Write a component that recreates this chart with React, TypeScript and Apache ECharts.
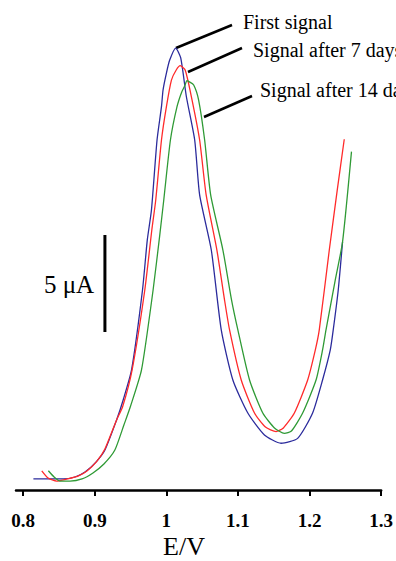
import React, { useEffect, useRef } from "react";
import * as echarts from "echarts";

// Potential (V) and current (μA, relative to baseline)
const firstE = [0.8143, 0.8348, 0.8561, 0.8724, 0.8864, 0.9017, 0.9142, 0.9305, 0.9397, 0.9514, 0.9667, 0.9734, 0.9792, 0.987, 0.9932, 0.9954, 1.0001, 1.0047, 1.0131, 1.0201, 1.028, 1.0396, 1.0465, 1.0628, 1.0767, 1.0929, 1.1138, 1.137, 1.1603, 1.1834, 1.2043, 1.2182, 1.229, 1.2331, 1.2401, 1.2461];
const firstI = [0.57, 0.57, 0.57, 0.67, 0.93, 1.44, 2.06, 3.61, 4.64, 6.19, 10.31, 12.89, 14.43, 18.04, 19.76, 20.62, 21.49, 22.16, 22.78, 22.27, 20.27, 18.04, 15.21, 12.37, 8.25, 5.67, 3.97, 2.84, 2.41, 2.66, 3.97, 5.67, 7.22, 8.25, 10.31, 12.78];

const day7E = [0.826, 0.8348, 0.8469, 0.8613, 0.8766, 0.8891, 0.9031, 0.9142, 0.9305, 0.9389, 0.9522, 0.9699, 0.9797, 0.9852, 0.9932, 1.0001, 1.0071, 1.0138, 1.0194, 1.0263, 1.035, 1.0465, 1.0556, 1.0706, 1.0813, 1.0883, 1.1046, 1.1231, 1.1384, 1.1533, 1.1635, 1.1788, 1.1974, 1.2081, 1.2136, 1.2276, 1.2387, 1.2485];
const day7I = [0.99, 0.62, 0.46, 0.57, 0.72, 0.98, 1.49, 2.11, 3.61, 4.29, 6.19, 10.31, 13.4, 14.95, 18.04, 19.76, 21.13, 21.65, 21.87, 21.65, 20.27, 18.04, 15.21, 12.37, 9.79, 8.25, 5.67, 3.97, 3.25, 3.01, 3.2, 3.97, 5.67, 7.22, 8.25, 12.37, 15.46, 18.08];

const day14E = [0.8352, 0.8432, 0.8515, 0.8655, 0.8822, 0.8975, 0.9128, 0.9281, 0.9407, 0.9497, 0.9653, 0.9815, 0.9908, 0.9964, 1.0057, 1.0149, 1.0215, 1.0256, 1.0288, 1.0316, 1.0382, 1.0451, 1.0535, 1.0619, 1.079, 1.0911, 1.0999, 1.1162, 1.1347, 1.151, 1.1649, 1.1747, 1.1904, 1.2091, 1.2182, 1.223, 1.2359, 1.2461, 1.2586];
const day14I = [0.99, 0.67, 0.46, 0.46, 0.57, 0.88, 1.34, 2.06, 3.35, 4.29, 6.19, 10.31, 13.14, 14.95, 18.04, 19.76, 20.52, 20.82, 21.1, 21.05, 20.88, 20.1, 18.04, 15.21, 12.37, 9.79, 8.25, 5.67, 3.97, 3.2, 2.92, 3.04, 3.97, 5.67, 7.22, 8.25, 10.82, 12.78, 17.44];

const xTicks = [0.8, 0.9, 1, 1.1, 1.2, 1.3];
const scaleBarE = [0.9142, 0.9142];
const scaleBarI = [8.14, 13.14];

const seriesNames = ["First signal", "Signal after 7 days", "Signal after 14 days"];
const scaleLabel = "5 μA";
const axisTitle = "E/V";

const zip = (a: number[], b: number[]) => a.map((v, i) => [v, b[i]]);

const FONT = "'Liberation Serif', 'Times New Roman', serif";

export default function App() {
  const ref = useRef<HTMLDivElement>(null);
  useEffect(() => {
    if (!ref.current) return;
    const chart = echarts.init(ref.current, undefined, { renderer: "svg" });
    const lineSeries = (name: string, data: number[][], color: string) => ({
      type: "line",
      name,
      data,
      showSymbol: false,
      symbol: "none",
      smooth: 0.2,
      lineStyle: { color, width: 1.3 },
      z: 2,
    });
    chart.setOption({
      animation: false,
      backgroundColor: "#ffffff",
      grid: { left: 16, right: 14, top: 5, bottom: 71, containLabel: false },
      xAxis: {
        type: "value",
        min: 0.79,
        max: 1.3,
        axisLine: { show: true, onZero: false, lineStyle: { color: "#000", width: 2.5 } },
        axisTick: { show: true, customValues: xTicks, length: 6, lineStyle: { color: "#000", width: 2 } },
        axisLabel: {
          customValues: xTicks,
          margin: 21,
          color: "#000",
          fontFamily: FONT,
          fontWeight: "bold",
          fontSize: 19,
          formatter: (v: number) => String(Math.round(v * 10) / 10),
        },
        splitLine: { show: false },
      },
      yAxis: { type: "value", min: 0, max: 25, show: false },
      series: [
        lineSeries(seriesNames[0], zip(firstE, firstI), "#2b2b9c"),
        lineSeries(seriesNames[1], zip(day7E, day7I), "#ff2a2a"),
        lineSeries(seriesNames[2], zip(day14E, day14I), "#2f9a35"),
        {
          type: "line",
          data: zip(scaleBarE, scaleBarI),
          symbol: "none",
          lineStyle: { color: "#000", width: 3 },
        },
      ],
      graphic: [
        { type: "line", shape: { x1: 176, y1: 48, x2: 232, y2: 25 }, style: { stroke: "#000", lineWidth: 2.5 } },
        { type: "line", shape: { x1: 188, y1: 72, x2: 242, y2: 48 }, style: { stroke: "#000", lineWidth: 2.5 } },
        { type: "line", shape: { x1: 204, y1: 117, x2: 252, y2: 96 }, style: { stroke: "#000", lineWidth: 2.5 } },
        { type: "text", x: 243, y: 22, style: { text: seriesNames[0], font: `20px ${FONT}`, fill: "#000", textVerticalAlign: "middle" } },
        { type: "text", x: 253, y: 50, style: { text: seriesNames[1], font: `20px ${FONT}`, fill: "#000", textVerticalAlign: "middle" } },
        { type: "text", x: 260, y: 90, style: { text: seriesNames[2], font: `20px ${FONT}`, fill: "#000", textVerticalAlign: "middle" } },
        { type: "text", x: 69, y: 284, style: { text: scaleLabel, font: `25px ${FONT}`, fill: "#000", textAlign: "center", textVerticalAlign: "middle" } },
        { type: "text", x: 184, y: 546, style: { text: axisTitle, font: `26px ${FONT}`, fill: "#000", textAlign: "center", textVerticalAlign: "middle" } },
      ],
    });
    return () => chart.dispose();
  }, []);
  return <div ref={ref} style={{ width: 396, height: 561, position: "absolute", left: 0, top: 0 }} />;
}
